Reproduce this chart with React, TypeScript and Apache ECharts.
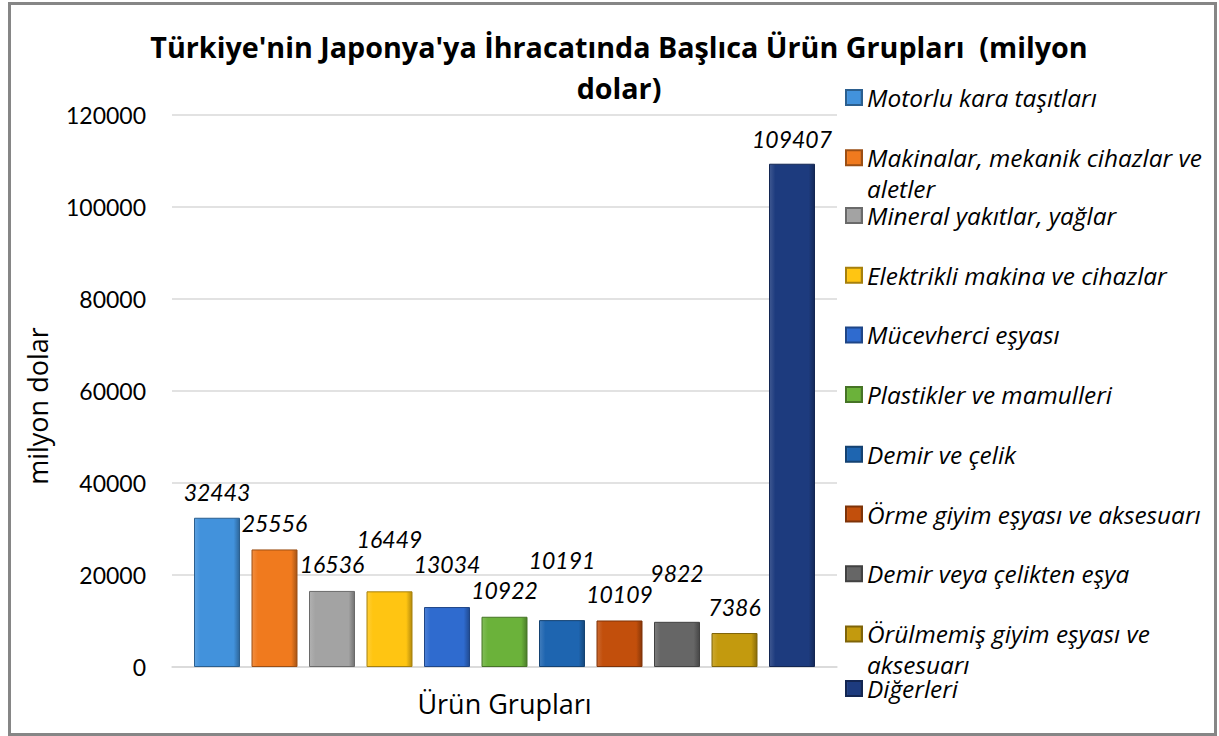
import React, { useEffect, useRef } from "react";
import * as echarts from "echarts";

const seriesNames = [
  "Motorlu kara taşıtları",
  "Makinalar, mekanik cihazlar ve aletler",
  "Mineral yakıtlar, yağlar",
  "Elektrikli makina ve cihazlar",
  "Mücevherci eşyası",
  "Plastikler ve mamulleri",
  "Demir ve çelik",
  "Örme giyim eşyası ve aksesuarı",
  "Demir veya çelikten eşya",
  "Örülmemiş giyim eşyası ve aksesuarı",
  "Diğerleri",
];

// legend lines (second line empty when the entry fits on one line)
const legendLine1 = [
  "Motorlu kara taşıtları",
  "Makinalar, mekanik cihazlar ve",
  "Mineral yakıtlar, yağlar",
  "Elektrikli makina ve cihazlar",
  "Mücevherci eşyası",
  "Plastikler ve mamulleri",
  "Demir ve çelik",
  "Örme giyim eşyası ve aksesuarı",
  "Demir veya çelikten eşya",
  "Örülmemiş giyim eşyası ve",
  "Diğerleri",
];
const legendLine2 = ["", "aletler", "", "", "", "", "", "", "", "aksesuarı", ""];

const values = [32443, 25556, 16536, 16449, 13034, 10922, 10191, 10109, 9822, 7386, 109407];

const category = ["Ürün Grupları"];

const yMin = 0;
const yMax = 120000;
const yInterval = 20000;

// styles
const baseColors = [
  "#4292DC", "#F07A1E", "#A3A3A3", "#FFC512", "#2F6BCF", "#6BB23A",
  "#1E65B0", "#C24F0C", "#666666", "#C39A0E", "#1D3B7E",
];
const labelShift = [1, 0, 0, -26, -16.5, 0, -34, 0, -22.5, 0, 1.5];

const NUM_FONT = "Lato, 'Open Sans', sans-serif";
const TXT_FONT = "'Open Sans', Lato, sans-serif";

function shade(hex: string, f: number): string {
  const n = parseInt(hex.slice(1), 16);
  let r = (n >> 16) & 255, g = (n >> 8) & 255, b = n & 255;
  if (f >= 0) {
    r = Math.round(r + (255 - r) * f);
    g = Math.round(g + (255 - g) * f);
    b = Math.round(b + (255 - b) * f);
  } else {
    r = Math.round(r * (1 + f));
    g = Math.round(g * (1 + f));
    b = Math.round(b * (1 + f));
  }
  return "#" + ((1 << 24) | (r << 16) | (g << 8) | b).toString(16).slice(1);
}

export default function App() {
  const ref = useRef<HTMLDivElement>(null);
  useEffect(() => {
    if (!ref.current) return;
    const chart = echarts.init(ref.current, null, { renderer: "svg" });
    const series = seriesNames.map((name, i) => {
      const c = baseColors[i];
      return {
        type: "bar",
        name,
        data: [values[i]],
        barWidth: 46,
        barGap: "25%",
        itemStyle: {
          color: new echarts.graphic.LinearGradient(0, 0, 1, 0, [
            { offset: 0, color: shade(c, 0.15) },
            { offset: 0.13, color: c },
            { offset: 0.87, color: c },
            { offset: 1, color: shade(c, -0.3) },
          ]),
          borderColor: shade(c, -0.35),
          borderWidth: 1,
        },
        label: {
          show: true,
          position: "top",
          distance: 15,
          offset: [0, labelShift[i]],
          fontFamily: NUM_FONT,
          fontStyle: "italic",
          fontSize: 23,
          lineHeight: 23,
          color: "#000",
        },
      };
    });
    const legendMap: Record<string, string> = {};
    seriesNames.forEach((n, i) => {
      legendMap[n] = legendLine2[i]
        ? `{a|${legendLine1[i]}}\n{b|${legendLine2[i]}}`
        : `{a|${legendLine1[i]}}`;
    });
    const legendText = {
      fontFamily: TXT_FONT,
      fontStyle: "italic",
      fontSize: 24.4,
      color: "#000",
    };
    const legendBase = {
      orient: "vertical",
      left: 845,
      padding: 0,
      itemGap: 28.7,
      itemWidth: 16,
      itemHeight: 15,
      icon: "rect",
      formatter: (n: string) => legendMap[n] || n,
      textStyle: {
        ...legendText,
        lineHeight: 31,
        rich: {
          a: { ...legendText, lineHeight: 31 },
          b: { ...legendText, lineHeight: 1, padding: [30, 0, 0, 0] },
        },
      },
    };

    chart.setOption({
      animation: false,
      backgroundColor: "#fff",
      title: {
        text: "Türkiye'nin Japonya'ya İhracatında Başlıca Ürün Grupları  (milyon\ndolar)",
        left: 614,
        top: 21,
        textAlign: "center",
        textStyle: {
          fontFamily: TXT_FONT,
          fontWeight: "bold",
          fontSize: 28.7,
          lineHeight: 41,
          color: "#000",
        },
      },
      legend: [
        { ...legendBase, top: 82, data: seriesNames.slice(0, 2) },
        { ...legendBase, top: 200, data: seriesNames.slice(2, 10) },
        { ...legendBase, top: 673, data: seriesNames.slice(10) },
      ],
      grid: { left: 172, right: 382, top: 115, bottom: 69, containLabel: false },
      xAxis: {
        type: "category",
        data: category,
        name: "Ürün Grupları",
        nameLocation: "middle",
        nameGap: 23,
        nameTextStyle: { fontFamily: TXT_FONT, fontSize: 27, color: "#000" },
        axisLine: { show: true, lineStyle: { color: "#d9d9d9", width: 1.5 } },
        axisTick: { show: false },
        axisLabel: { show: false },
      },
      yAxis: {
        type: "value",
        min: yMin,
        max: yMax,
        interval: yInterval,
        axisLine: { show: false },
        axisTick: { show: false },
        axisLabel: {
          fontFamily: NUM_FONT,
          fontSize: 23,
          color: "#000",
          margin: 26,
          formatter: (v: number) => String(v),
        },
        splitLine: { lineStyle: { color: "#d9d9d9", width: 1.5 } },
      },
      graphic: [
        {
          type: "text",
          x: 37,
          y: 406,
          rotation: Math.PI / 2,
          style: {
            text: "milyon dolar",
            align: "center",
            verticalAlign: "middle",
            font: `27px ${TXT_FONT}`,
            fill: "#000",
          },
        },
        {
          type: "rect",
          shape: { x: 9.5, y: 3.5, width: 1206, height: 731 },
          style: { fill: "none", stroke: "#868686", lineWidth: 3 },
          z: 100,
          silent: true,
        },
      ],
      series,
    });
    return () => chart.dispose();
  }, []);
  return (
    <div
      ref={ref}
      style={{ position: "fixed", left: 0, top: 0, width: 1219, height: 736 }}
    />
  );
}
